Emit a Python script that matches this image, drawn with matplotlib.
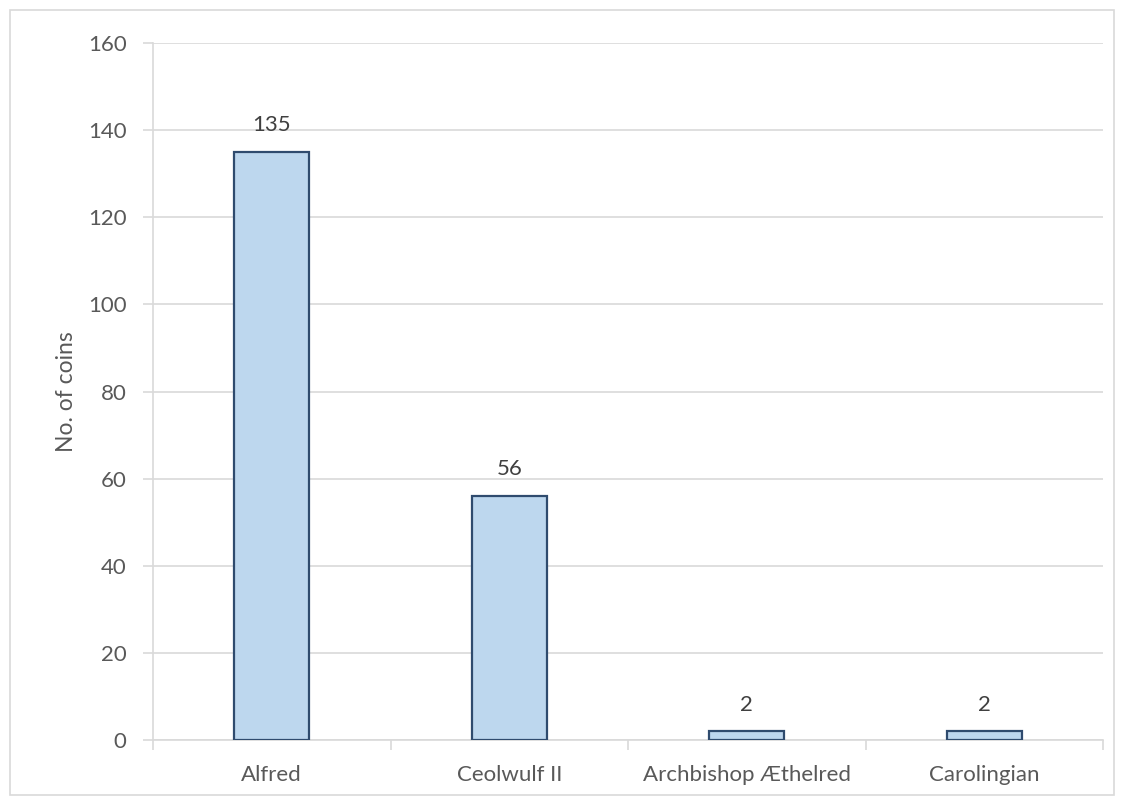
import matplotlib
matplotlib.use("Agg")
import matplotlib.pyplot as plt
from matplotlib.patches import Rectangle
import numpy as np

categories = ["Alfred", "Ceolwulf II", "Archbishop Æthelred", "Carolingian"]
coins = [135, 56, 2, 2]
y_ticks = [0, 20, 40, 60, 80, 100, 120, 140, 160]

plt.rcParams['font.family'] = ['Lato', 'DejaVu Sans']
text_color = "#595959"
grid_color = "#D9D9D9"

fig = plt.figure(figsize=(11.24, 8.01), dpi=100)
ax = fig.add_axes([153 / 1124, 61 / 801, 950 / 1124, 697 / 801])

x = np.arange(len(categories))
bars = ax.bar(x, coins, width=0.316, color="#BDD7EE", edgecolor="#2F4B6E",
              linewidth=1.6, zorder=3)

for xi, v in zip(x, coins):
    ax.annotate(str(v), (xi, v), xytext=(0, 12), textcoords="offset points",
                ha="center", va="bottom", fontsize=16, color="#404040")

ax.set_xlim(-0.5, len(categories) - 0.5)
ax.set_ylim(0, 160)
ax.set_yticks(y_ticks)
ax.set_yticklabels([str(t) for t in y_ticks])
ax.yaxis.grid(True, color=grid_color, linewidth=1.2, zorder=0)
ax.set_axisbelow(True)

ax.set_xticks(x)
ax.set_xticklabels(categories)
ax.set_xticks(np.arange(len(categories) + 1) - 0.5, minor=True)
ax.tick_params(axis="x", which="major", length=0, pad=18, labelsize=16,
               labelcolor=text_color)
ax.tick_params(axis="x", which="minor", length=7, width=1.2, color=grid_color)
ax.tick_params(axis="y", length=7, width=1.2, color=grid_color, pad=12,
               labelsize=16, labelcolor=text_color)

for side in ["top", "right"]:
    ax.spines[side].set_visible(False)
for side in ["left", "bottom"]:
    ax.spines[side].set_color(grid_color)
    ax.spines[side].set_linewidth(1.2)

ax.set_ylabel("No. of coins", fontsize=16.5, color=text_color, labelpad=8)

fig.patches.append(Rectangle((10 / 1124, 6 / 801), 1104 / 1124, 785 / 801,
                             transform=fig.transFigure, fill=False,
                             edgecolor="#D9D9D9", linewidth=1.2))

fig.savefig("out.png", dpi=100)
